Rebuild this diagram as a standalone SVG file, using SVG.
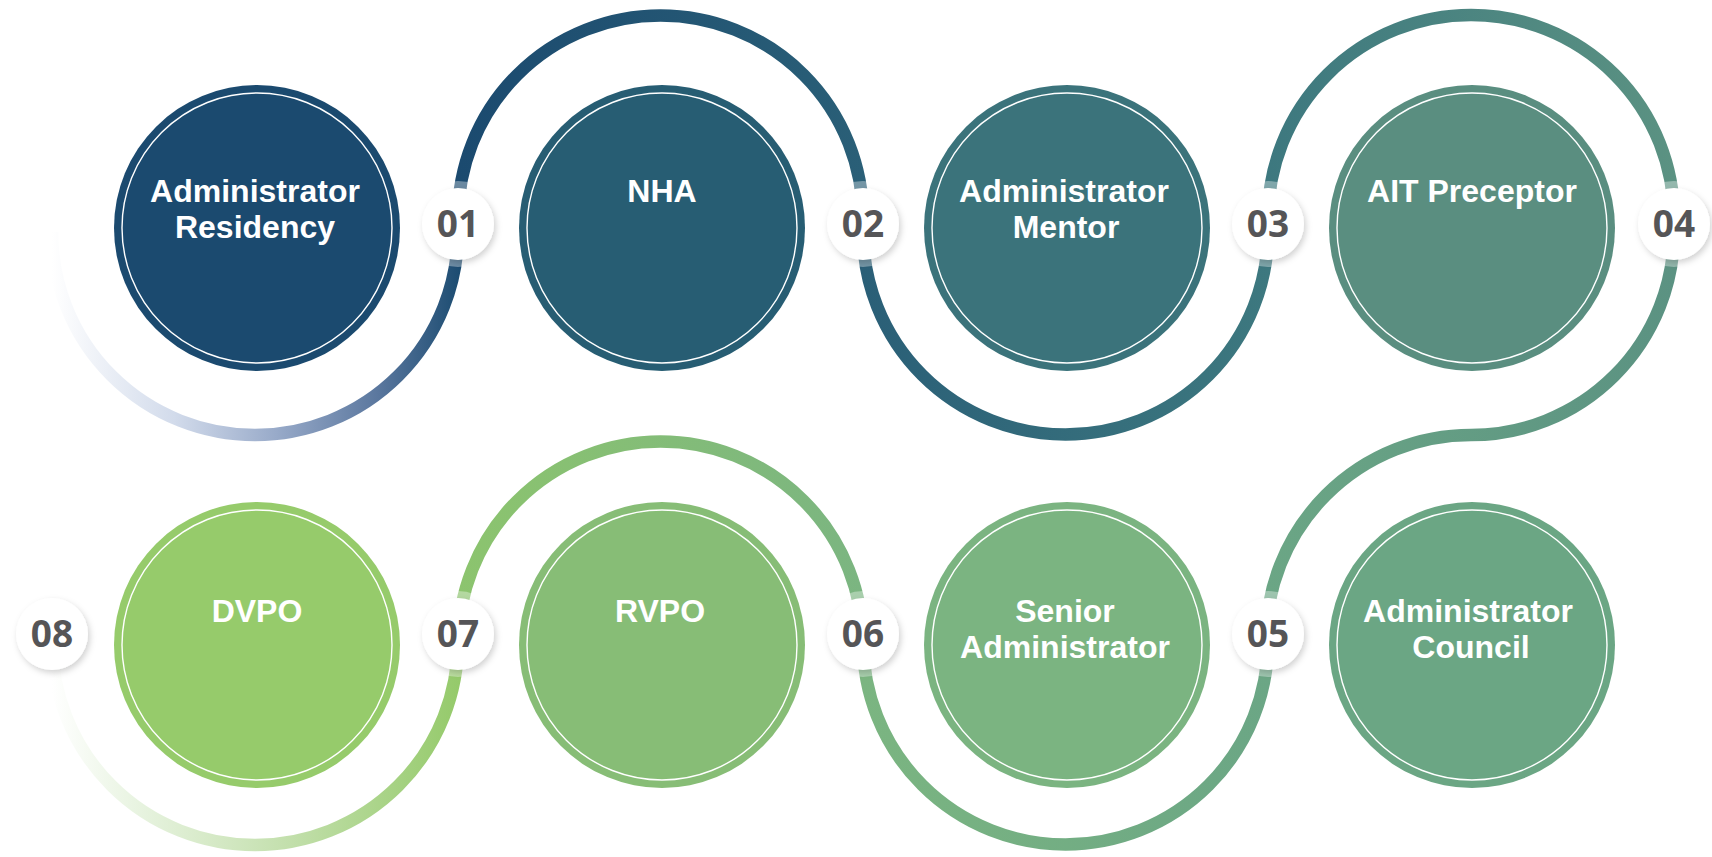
<svg xmlns="http://www.w3.org/2000/svg" width="1712" height="857" viewBox="0 0 1712 857">
<defs>
<linearGradient id="gA" gradientUnits="userSpaceOnUse" x1="52" y1="0" x2="460" y2="0">
<stop offset="0" stop-color="#ffffff"/><stop offset="0.3" stop-color="#d2dbeb"/><stop offset="0.55" stop-color="#98aac9"/><stop offset="0.8" stop-color="#5a779e"/><stop offset="1" stop-color="#1c4c71"/>
</linearGradient>
<linearGradient id="gB" gradientUnits="userSpaceOnUse" x1="458" y1="0" x2="863" y2="0">
<stop offset="0" stop-color="#1b4a6f"/><stop offset="1" stop-color="#2a5f77"/>
</linearGradient>
<linearGradient id="gC" gradientUnits="userSpaceOnUse" x1="863" y1="0" x2="1268" y2="0">
<stop offset="0" stop-color="#2a5f77"/><stop offset="1" stop-color="#3d787f"/>
</linearGradient>
<linearGradient id="gD" gradientUnits="userSpaceOnUse" x1="1268" y1="0" x2="1674" y2="0">
<stop offset="0" stop-color="#3d787f"/><stop offset="1" stop-color="#5b9282"/>
</linearGradient>
<linearGradient id="gS" gradientUnits="userSpaceOnUse" x1="1674" y1="0" x2="1266" y2="0">
<stop offset="0" stop-color="#5b9282"/><stop offset="1" stop-color="#6ba685"/>
</linearGradient>
<linearGradient id="gE" gradientUnits="userSpaceOnUse" x1="1268" y1="0" x2="863" y2="0">
<stop offset="0" stop-color="#6ba685"/><stop offset="1" stop-color="#7bb581"/>
</linearGradient>
<linearGradient id="gF" gradientUnits="userSpaceOnUse" x1="863" y1="0" x2="458" y2="0">
<stop offset="0" stop-color="#7bb581"/><stop offset="1" stop-color="#8cc46e"/>
</linearGradient>
<linearGradient id="gG" gradientUnits="userSpaceOnUse" x1="458" y1="0" x2="52" y2="0">
<stop offset="0" stop-color="#95ca6b"/><stop offset="0.45" stop-color="#c6e1b1"/><stop offset="0.8" stop-color="#e9f4e2"/><stop offset="1" stop-color="#ffffff"/>
</linearGradient>
<filter id="sh" x="-50%" y="-50%" width="200%" height="200%">
<feDropShadow dx="2" dy="3" stdDeviation="3" flood-color="#000000" flood-opacity="0.18"/>
</filter>
<style>
.arc{fill:none;stroke-width:12.5}
.ring{fill:none;stroke:#ffffff;stroke-width:1.4}
.lbl{font-family:"Liberation Sans",Arial,sans-serif;font-weight:700;font-size:32px;fill:#ffffff;text-anchor:middle}
.halo{fill:#ffffff;fill-opacity:0.35}
.bd{fill:#ffffff;filter:url(#sh)}
.num{font-family:"Open Sans","Noto Sans",sans-serif;font-weight:700;font-size:37px;fill:#555557;text-anchor:middle}
</style>
</defs>
<g id="connectors">
<path class="arc" stroke="url(#gA)" d="M52 232 A203 203 0 0 0 458 232"/>
<path class="arc" stroke="url(#gB)" d="M458 218 A202.5 202.5 0 0 1 863 218"/>
<path class="arc" stroke="url(#gC)" d="M863 232 A202.5 202.5 0 0 0 1268 232"/>
<path class="arc" stroke="url(#gD)" d="M1268 218 A203 203 0 0 1 1674 218"/>
<path class="arc" stroke="url(#gS)" d="M1674 232 A203 203 0 0 1 1471 435 A205 205 0 0 0 1266 640"/>
<path class="arc" stroke="url(#gE)" d="M1268 642 A202.5 202.5 0 0 1 863 642"/>
<path class="arc" stroke="url(#gF)" d="M863 644 A202.5 202.5 0 0 0 458 644"/>
<path class="arc" stroke="url(#gG)" d="M458 642 A203 203 0 0 1 52 642"/>
</g>
<g id="node-administrator-residency">
<circle cx="257" cy="228" r="143" fill="#1b4a6f"/>
<circle class="ring" cx="257" cy="228" r="135"/>
<text class="lbl" x="255" y="202">Administrator</text>
<text class="lbl" x="255" y="238">Residency</text>
</g>
<g id="node-nha">
<circle cx="662" cy="228" r="143" fill="#275d73"/>
<circle class="ring" cx="662" cy="228" r="135"/>
<text class="lbl" x="662" y="202">NHA</text>
</g>
<g id="node-administrator-mentor">
<circle cx="1067" cy="228" r="143" fill="#3b737b"/>
<circle class="ring" cx="1067" cy="228" r="135"/>
<text class="lbl" x="1064" y="202">Administrator</text>
<text class="lbl" x="1066" y="238">Mentor</text>
</g>
<g id="node-ait-preceptor">
<circle cx="1472" cy="228" r="143" fill="#5a8e80"/>
<circle class="ring" cx="1472" cy="228" r="135"/>
<text class="lbl" x="1472" y="202">AIT Preceptor</text>
</g>
<g id="node-administrator-council">
<circle cx="1472" cy="645" r="143" fill="#6ba684"/>
<circle class="ring" cx="1472" cy="645" r="135"/>
<text class="lbl" x="1468" y="622">Administrator</text>
<text class="lbl" x="1471" y="658">Council</text>
</g>
<g id="node-senior-administrator">
<circle cx="1067" cy="645" r="143" fill="#7bb481"/>
<circle class="ring" cx="1067" cy="645" r="135"/>
<text class="lbl" x="1065" y="622">Senior</text>
<text class="lbl" x="1065" y="658">Administrator</text>
</g>
<g id="node-rvpo">
<circle cx="662" cy="645" r="143" fill="#87bd76"/>
<circle class="ring" cx="662" cy="645" r="135"/>
<text class="lbl" x="660" y="622">RVPO</text>
</g>
<g id="node-dvpo">
<circle cx="257" cy="645" r="143" fill="#96cb6b"/>
<circle class="ring" cx="257" cy="645" r="135"/>
<text class="lbl" x="257" y="622">DVPO</text>
</g>
<g id="badge-01"><circle class="halo" cx="458" cy="224" r="43"/><circle class="bd" cx="458" cy="224" r="36"/><text class="num" x="458" y="237">01</text></g>
<g id="badge-02"><circle class="halo" cx="863" cy="224" r="43"/><circle class="bd" cx="863" cy="224" r="36"/><text class="num" x="863" y="237">02</text></g>
<g id="badge-03"><circle class="halo" cx="1268" cy="224" r="43"/><circle class="bd" cx="1268" cy="224" r="36"/><text class="num" x="1268" y="237">03</text></g>
<g id="badge-04"><circle class="halo" cx="1674" cy="224" r="43"/><circle class="bd" cx="1674" cy="224" r="36"/><text class="num" x="1674" y="237">04</text></g>
<g id="badge-05"><circle class="halo" cx="1268" cy="634" r="43"/><circle class="bd" cx="1268" cy="634" r="36"/><text class="num" x="1268" y="647">05</text></g>
<g id="badge-06"><circle class="halo" cx="863" cy="634" r="43"/><circle class="bd" cx="863" cy="634" r="36"/><text class="num" x="863" y="647">06</text></g>
<g id="badge-07"><circle class="halo" cx="458" cy="634" r="43"/><circle class="bd" cx="458" cy="634" r="36"/><text class="num" x="458" y="647">07</text></g>
<g id="badge-08"><circle class="halo" cx="52" cy="634" r="43"/><circle class="bd" cx="52" cy="634" r="36"/><text class="num" x="52" y="647">08</text></g>
</svg>
